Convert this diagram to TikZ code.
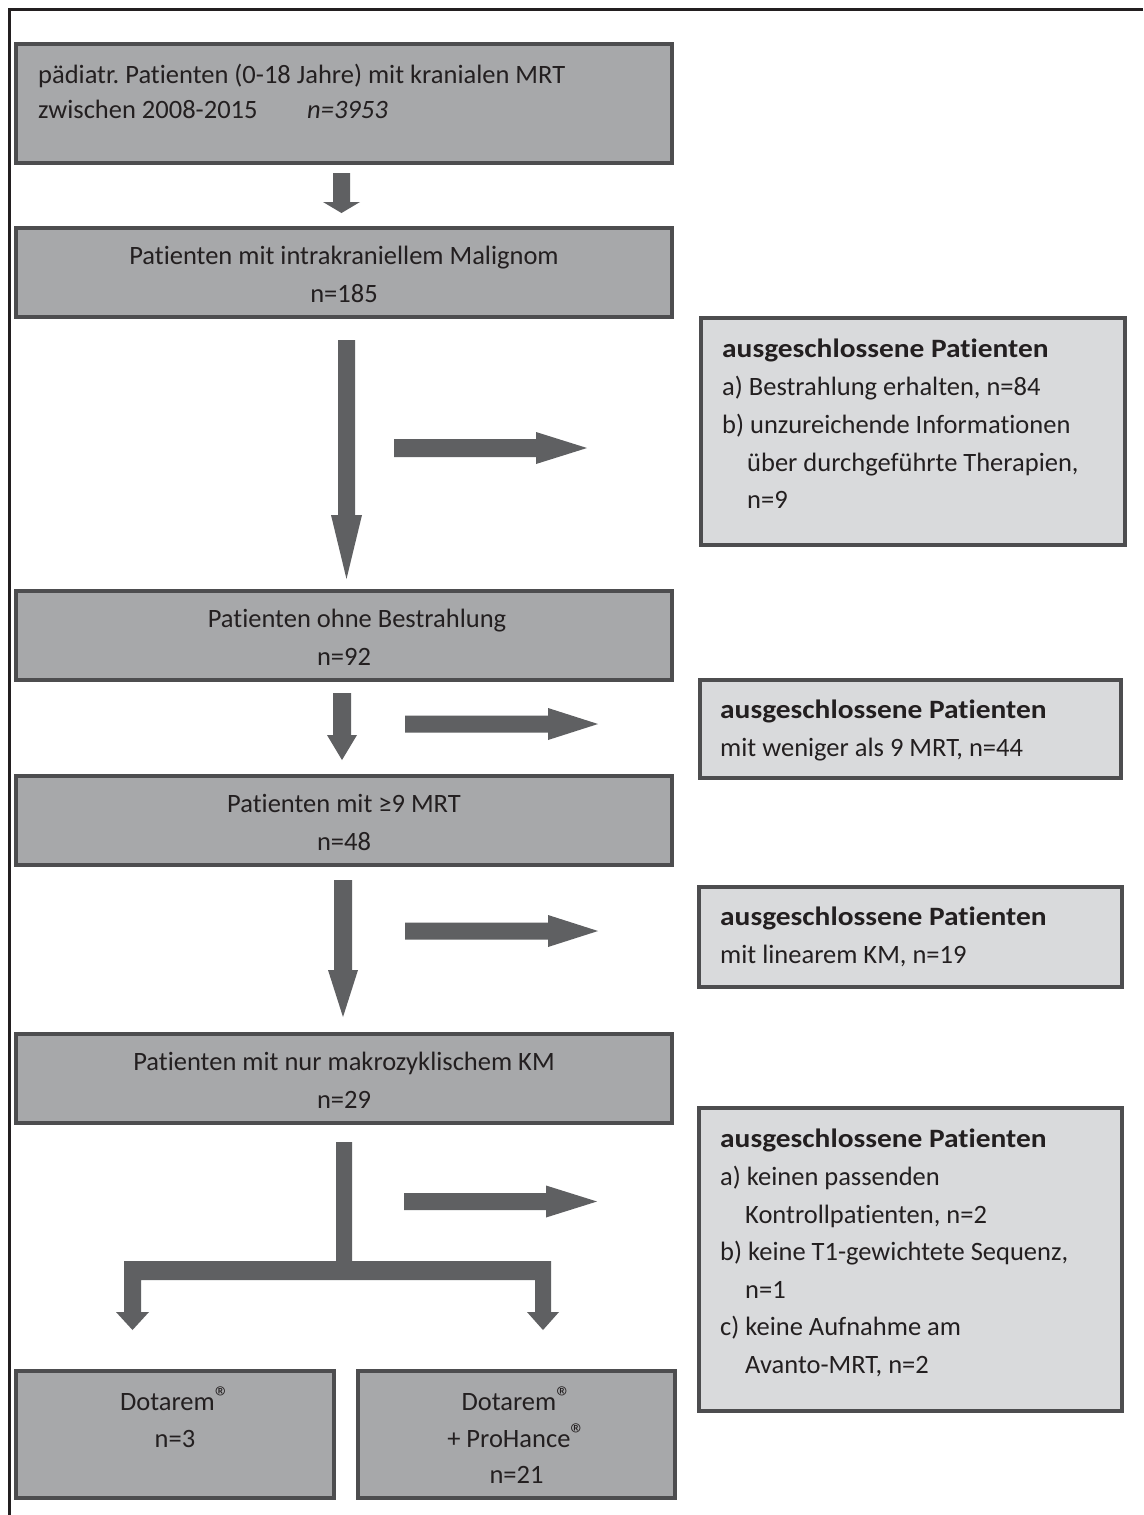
\documentclass[tikz,border=0pt]{standalone}
\usepackage{fontspec}
\setmainfont{Carlito}[Ligatures={NoCommon}]
\frenchspacing
\definecolor{boxdark}{HTML}{A7A8AA}
\definecolor{boxlight}{HTML}{D9DADC}
\definecolor{boxline}{HTML}{4D4D4F}
\definecolor{arrowcol}{HTML}{5F6062}
\definecolor{textcol}{HTML}{231F20}
\newcommand\blockdown[6]{%
  \fill[arrowcol] (#1-#5,#2) -- (#1+#5,#2) -- (#1+#5,#3) -- (#1+#6,#3) -- (#1,#4) -- (#1-#6,#3) -- (#1-#5,#3) -- cycle;}
\newcommand\blockright[6]{%
  \fill[arrowcol] (#1,#2-#5) -- (#3,#2-#5) -- (#3,#2-#6) -- (#4,#2) -- (#3,#2+#6) -- (#3,#2+#5) -- (#1,#2+#5) -- cycle;}
\newcommand\regmark{\raisebox{0.1em}{\fontsize{30}{30}\selectfont ®}}
\begin{document}
\begin{tikzpicture}[x=1pt,y=-1pt,
  darkbox/.style={draw=boxline, fill=boxdark, line width=4pt, inner sep=0pt, rectangle},
  lightbox/.style={draw=boxline, fill=boxlight, line width=4pt, inner sep=0pt, rectangle},
  txt/.style={inner sep=0pt, anchor=base, text=textcol, font=\fontsize{26.5}{32}\selectfont},
  txtl/.style={txt, anchor=base west},
  ttl/.style={txtl, font=\fontsize{26.5}{32}\selectfont\bfseries\addfontfeature{FakeStretch=1.11}}]
\useasboundingbox (0,0) rectangle (1143,1515);
\fill[white] (0,0) rectangle (1143,1515);
% frame
\draw[textcol, line width=3pt] (9.5,1515) -- (9.5,9.5) -- (1143,9.5);
% main boxes
\node[darkbox, minimum width=656pt, minimum height=119pt] (b1) at (344,103.5) {};
\node[darkbox, minimum width=656pt, minimum height=89pt] (b2) at (344,272.5) {};
\node[darkbox, minimum width=656pt, minimum height=89pt] (b3) at (344,635.5) {};
\node[darkbox, minimum width=656pt, minimum height=89pt] (b4) at (344,820.5) {};
\node[darkbox, minimum width=656pt, minimum height=89pt] (b5) at (344,1078.5) {};
\node[darkbox, minimum width=318pt, minimum height=127pt] (b6) at (175,1434.5) {};
\node[darkbox, minimum width=317pt, minimum height=127pt] (b7) at (516.5,1434.5) {};
% exclusion boxes
\node[lightbox, minimum width=424pt, minimum height=226.5pt] (r1) at (912.5,431.25) {};
\node[lightbox, minimum width=421pt, minimum height=98pt] (r2) at (910.5,729) {};
\node[lightbox, minimum width=423pt, minimum height=100pt] (r3) at (910.5,937) {};
\node[lightbox, minimum width=423pt, minimum height=303pt] (r4) at (910.5,1259.5) {};
% texts main
\node[txtl] (t1a) at (38,83) {pädiatr. Patienten (0-18 Jahre) mit kranialen MRT};
\node[txtl] (t1b) at (38,118) {zwischen 2008-2015};
\node[txtl] (t1c) at (307,118) {\itshape n=3953};
\node[txt] (t2a) at (344,264) {Patienten mit intrakraniellem Malignom};
\node[txt] (t2b) at (344,302) {n=185};
\node[txt] (t3a) at (357,627) {Patienten ohne Bestrahlung};
\node[txt] (t3b) at (344,665) {n=92};
\node[txt] (t4a) at (344,812) {Patienten mit ≥9 MRT};
\node[txt] (t4b) at (344,850) {n=48};
\node[txt] (t5a) at (344,1070) {Patienten mit nur makrozyklischem KM};
\node[txt] (t5b) at (344,1108) {n=29};
\node[txt] (t6a) at (175,1410) {Dotarem\regmark};
\node[txt] (t6b) at (175,1447) {n=3};
\node[txt] (t7a) at (516.5,1410) {Dotarem\regmark};
\node[txt] (t7b) at (516.5,1447) {+ ProHance\regmark};
\node[txt] (t7c) at (516.5,1483) {n=21};
% texts right
\node[ttl] (s1a) at (722,357) {ausgeschlossene Patienten};
\node[txtl] (s1b) at (722,395) {a) Bestrahlung erhalten, n=84};
\node[txtl] (s1c) at (722,433) {b) unzureichende Informationen};
\node[txtl] (s1d) at (747,471) {über durchgeführte Therapien,};
\node[txtl] (s1e) at (747,508) {n=9};
\node[ttl] (s2a) at (720,718) {ausgeschlossene Patienten};
\node[txtl] (s2b) at (720,756) {mit weniger als 9 MRT, n=44};
\node[ttl] (s3a) at (720,925) {ausgeschlossene Patienten};
\node[txtl] (s3b) at (720,963) {mit linearem KM, n=19};
\node[ttl] (s4a) at (720,1147) {ausgeschlossene Patienten};
\node[txtl] (s4b) at (720,1185) {a) keinen passenden};
\node[txtl] (s4c) at (745,1223) {Kontrollpatienten, n=2};
\node[txtl] (s4d) at (720,1260) {b) keine T1-gewichtete Sequenz,};
\node[txtl] (s4e) at (745,1298) {n=1};
\node[txtl] (s4f) at (720,1335) {c) keine Aufnahme am};
\node[txtl] (s4g) at (745,1373) {Avanto-MRT, n=2};
% arrows
\blockdown{341.5}{173}{202}{213}{8.5}{18.5}
\blockdown{346.5}{340}{515}{579}{8.5}{15.5}
\blockright{394}{448}{536}{587}{9}{16}
\blockdown{342}{693}{735}{760}{9}{15}
\blockright{405}{724}{548}{598}{8.5}{16}
\blockdown{343}{880}{970}{1017}{9}{15}
\blockright{405}{931}{548}{598}{8.5}{16}
\fill[arrowcol] (336,1142) -- (352,1142) -- (352,1261) -- (551,1261) -- (551,1312) -- (559,1312) -- (543,1330) -- (527,1312) -- (535,1312) -- (535,1280) -- (141,1280) -- (141,1312) -- (149,1312) -- (132.5,1330) -- (116,1312) -- (124,1312) -- (124,1261) -- (336,1261) -- cycle;
\blockright{404}{1201.5}{546}{597}{8.5}{16}
\end{tikzpicture}
\end{document}
